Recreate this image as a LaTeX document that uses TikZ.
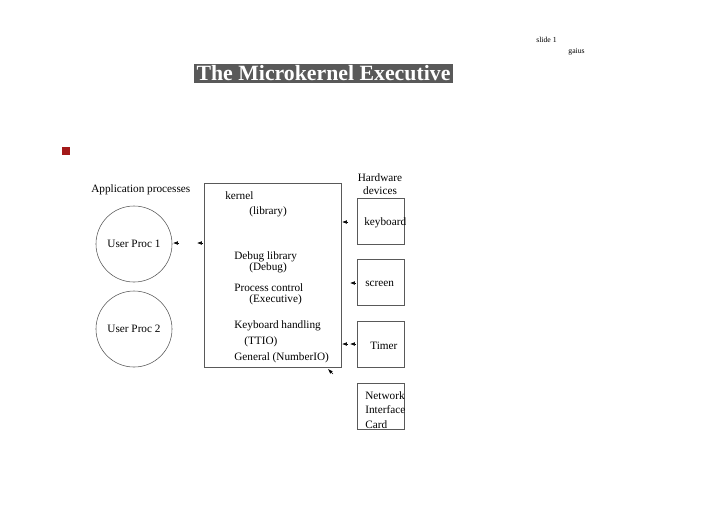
\documentclass[tikz,border=0pt]{standalone}
\usepackage{fontspec}
\setmainfont{Liberation Serif}
\usetikzlibrary{arrows.meta}

\begin{document}
\begin{tikzpicture}[x=0.025cm,y=-0.025cm,font=\fontsize{8}{9}\selectfont,
  proc/.style={draw,gray!70!black,circle,minimum size=1.9cm,inner sep=0pt,text=black},
  dev/.style={draw,gray!70!black,minimum width=1.175cm,minimum height=1.15cm,inner sep=0pt},
  lbl/.style={anchor=west,inner sep=0pt},
  tip/.style={-{Latex[length=3.5pt,width=2.6pt]},line width=0.4pt}]
\useasboundingbox(0,0)rectangle(720,509);
\node[fill=black!65,text=white,font=\fontsize{15.5}{16}\bfseries,inner xsep=2pt,inner ysep=1.5pt] (title) at(323.5,73.5){The Microkernel Executive};
\node[font=\fontsize{5.5}{6}\selectfont,anchor=east,inner sep=0pt] (slide) at(557,40){slide 1};
\node[font=\fontsize{5.5}{6}\selectfont,anchor=east,inner sep=0pt] (gaius) at(585,52){gaius};
\fill[red!60!black!90] (62,147) rectangle (70,155);
% processes
\node[lbl] (app) at(91,190){Application processes};
\node[proc] (proc1) at(134,244){User Proc 1};
\node[proc] (proc2) at(134,329){User Proc 2};
% kernel
\node[draw,gray!70!black,minimum width=3.43cm,minimum height=4.6cm] (kernel) at(272.5,275){};
\node[lbl] (kn) at(225,196){kernel};
\node[lbl] (lib) at(249,212){(library)};
\node[lbl] (dbg) at(234,257){Debug library};
\node[lbl] (dbgm) at(249,268){(Debug)};
\node[lbl] (pc) at(234,288){Process control};
\node[lbl] (exe) at(249,300){(Executive)};
\node[lbl] (kbh) at(234,326){Keyboard handling};
\node[lbl] (ttio) at(244,342){(TTIO)};
\node[lbl] (gen) at(234,358){General (NumberIO)};
% devices
\node[align=center] (hw) at(380,184){Hardware\\devices};
\node[dev] (kbd) at(380.5,221){};
\node[dev] (scr) at(380.5,282.5){};
\node[dev] (tmr) at(380.5,344.5){};
\node[dev] (nic) at(380.5,406.5){};
\node[lbl] (kbdl) at(364,223){keyboard};
\node[lbl] (scrl) at(365,284){screen};
\node[lbl] (tmrl) at(370,346){Timer};
\node[lbl,align=left,font=\fontsize{8}{10.5}\selectfont] (nicl) at(365,410){Network\\Interface\\Card};
% arrowheads
\draw[tip](179,243)--(173,243);
\draw[tip](203,243)--(197,243);
\draw[tip](348,222)--(342,222);
\draw[tip](356,283)--(350,283);
\draw[tip](348,344)--(342,344);
\draw[tip](356,344)--(350,344);
\draw[tip](333,374)--(328,369);
\end{tikzpicture}
\end{document}
